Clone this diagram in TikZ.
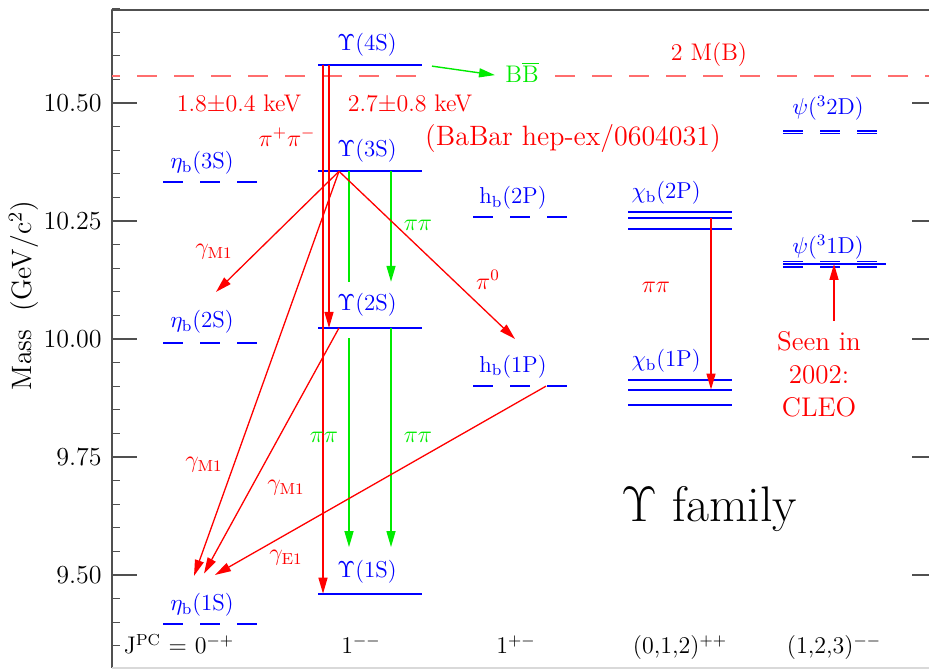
\RequirePackage{fix-cm}
\documentclass[tikz,border=0pt]{standalone}
\usetikzlibrary{arrows.meta}
\definecolor{lvlblue}{RGB}{0,0,255}
\definecolor{decred}{RGB}{255,0,0}
\definecolor{decgreen}{RGB}{0,235,0}
\definecolor{thrred}{RGB}{255,110,110}
\definecolor{framegray}{RGB}{80,80,80}
\begin{document}
\begin{tikzpicture}[x=0.5pt, y=236pt, line join=round, >={Triangle[length=8pt,width=4.5pt]}]
  \tikzset{every node/.style={inner sep=0pt, font=\fontsize{12}{14}\selectfont},
    lvl/.style={draw=lvlblue, line width=1pt},
    lvldash/.style={lvl, dash pattern=on 10pt off 8.5pt},
    trans/.style={->, draw=decred, fill=decred, line width=0.65pt},
    transg/.style={->, draw=decgreen, fill=decgreen, line width=0.7pt},
    blbl/.style={text=lvlblue, font=\fontsize{11.5}{13}\selectfont},
    rlbl/.style={text=decred},
    glbl/.style={text=decgreen},
    jpc/.style={anchor=base, font=\fontsize{12}{14}\selectfont}}
  \def\xmin{112}\def\xmax{929}\def\ymin{9.303}\def\ymax{10.697}
  \useasboundingbox (0,9.30085) rectangle (929,10.71822);
  \draw[framegray, line width=0.8pt] (\xmin,\ymin) -- (\xmin,\ymax) -- (\xmax,\ymax);
  \draw[black!15, line width=0.6pt] (\xmin,\ymin) -- (\xmax,\ymin);
  \foreach \k in {7,...,53} \draw[framegray, line width=0.6pt] (\xmin,{9+\k/20}) -- ++(8,0);
  \foreach \m/\t/\n in {9.50/9.50/a,9.75/9.75/b,10.00/10.00/c,10.25/10.25/d,10.50/10.50/e} {
    \draw[framegray, line width=0.6pt] (\xmin,\m) -- ++(25,0);
    \draw[framegray, line width=0.6pt] (912,\m) -- (\xmax,\m);
    \node[anchor=east, font=\fontsize{13}{15}\selectfont] (tick\n) at (102,\m) {\t};
  }
  \node[rotate=90, font=\fontsize{14}{16}\selectfont] (ylabel) at (24,10.092) {Mass\ \ (GeV/c$^2$)};
  % threshold
  \draw[thrred, line width=0.75pt, dash pattern=on 10pt off 8.5pt, dash phase=6pt] (\xmin,10.557) -- (430,10.557);
  \draw[thrred, line width=0.75pt, dash pattern=on 10pt off 8.5pt] (555,10.557) -- (\xmax,10.557);
  % levels
  \foreach \m in {10.5794,10.3552,10.0233,9.4603} \draw[lvl] (318,\m) -- (422,\m);
  \foreach \m in {10.333,9.9915,9.396} \draw[lvldash] (163,\m) -- (257,\m);
  \foreach \m in {10.258,9.900} \draw[lvldash] (473,\m) -- (567,\m);
  \foreach \m in {10.2686,10.2555,10.2325,9.9122,9.8928,9.8594} \draw[lvl] (628,\m) -- (732,\m);
  \foreach \m in {10.441,10.435,10.164,10.153} \draw[lvldash, line width=0.8pt] (783,\m) -- (877,\m);
  \draw[lvl, line width=0.8pt] (783,10.159) -- (886,10.159);
  % state names
  \node[blbl] (ups4) at (367,10.623) {$\Upsilon$(4S)};
  \node[blbl] (ups3) at (367,10.398) {$\Upsilon$(3S)};
  \node[blbl] (ups2) at (367,10.072) {$\Upsilon$(2S)};
  \node[blbl] (ups1) at (367,9.506) {$\Upsilon$(1S)};
  \node[blbl] (etab3) at (202,10.373) {$\eta_{\rm b}$(3S)};
  \node[blbl] (etab2) at (202,10.036) {$\eta_{\rm b}$(2S)};
  \node[blbl] (etab1) at (202,9.436) {$\eta_{\rm b}$(1S)};
  \node[blbl] (hb2) at (513,10.299) {h$_{\rm b}$(2P)};
  \node[blbl] (hb1) at (513,9.941) {h$_{\rm b}$(1P)};
  \node[blbl] (chib2) at (666,10.309) {$\chi_{\rm b}$(2P)};
  \node[blbl] (chib1) at (666,9.953) {$\chi_{\rm b}$(1P)};
  \node[blbl] (psi2) at (828,10.489) {$\psi$($^3$2D)};
  \node[blbl] (psi1) at (828,10.195) {$\psi$($^3$1D)};
  % transitions
  \coordinate (u4a) at (323,10.5794);
  \coordinate (u1a) at (323,9.4603);
  \coordinate (u4b) at (329,10.5794);
  \coordinate (u2b) at (329,10.0233);
  \draw[trans] (u4a) -- (u1a);
  \draw[trans] (u4b) -- (u2b);
  \coordinate (u3g) at (349,10.3552);
  \coordinate (gbrk1) at (349,10.121);
  \coordinate (gbrk2) at (349,10.002);
  \coordinate (u1g) at (349,9.559);
  \draw[decgreen, line width=0.7pt] (u3g) -- (gbrk1);
  \draw[transg] (gbrk2) -- (u1g);
  \coordinate (u3h) at (391,10.3552);
  \coordinate (u2h) at (391,10.121);
  \coordinate (u2i) at (391,10.0233);
  \coordinate (u1i) at (391,9.559);
  \draw[transg] (u3h) -- (u2h);
  \draw[transg] (u2i) -- (u1i);
  \coordinate (u3r) at (339,10.3552);
  \coordinate (u2r) at (339,10.0233);
  \coordinate (hb1r) at (546,9.900);
  \coordinate (eb2t) at (216,10.0996);
  \coordinate (hb1t) at (515,10.0);
  \coordinate (eb1t1) at (194,9.498);
  \coordinate (eb1t2) at (204,9.503);
  \coordinate (eb1t3) at (215,9.500);
  \draw[trans] (u3r) -- (eb2t);
  \draw[trans] (u3r) -- (hb1t);
  \draw[trans] (u3r) -- (eb1t1);
  \draw[trans] (u2r) -- (eb1t2);
  \draw[trans] (hb1r) -- (eb1t3);
  \coordinate (cb2r) at (711,10.2555);
  \coordinate (cb1r) at (711,9.8928);
  \draw[trans] (cb2r) -- (cb1r);
  \coordinate (seenr) at (834,10.038);
  \coordinate (psi1r) at (834,10.159);
  \draw[trans] (seenr) -- (psi1r);
  \coordinate (u4g) at (432,10.578);
  \coordinate (bbt) at (495,10.559);
  \draw[transg] (u4g) -- (bbt);
  % transition labels
  \node[glbl] (bbbar) at (522,10.5646) {B$\overline{\rm B}$};
  \node[rlbl] (twomb) at (709,10.602) {2 M(B)};
  \node[rlbl] (keva) at (239,10.498) {1.8$\pm$0.4 keV};
  \node[rlbl] (kevb) at (410,10.498) {2.7$\pm$0.8 keV};
  \node[rlbl] (pipm) at (287,10.428) {$\pi^+\pi^-$};
  \node[rlbl, font=\fontsize{14}{16}\selectfont] (babar) at (573,10.424) {(BaBar hep-ex/0604031)};
  \node[rlbl] (gma) at (214,10.184) {$\gamma_{\rm M1}$};
  \node[rlbl] (pizero) at (488,10.125) {$\pi^0$};
  \node[rlbl] (gmb) at (204,9.733) {$\gamma_{\rm M1}$};
  \node[rlbl] (gmc) at (286,9.684) {$\gamma_{\rm M1}$};
  \node[rlbl] (gea) at (286,9.536) {$\gamma_{\rm E1}$};
  \node[rlbl] (pipichi) at (656,10.110) {$\pi\pi$};
  \node[rlbl, align=center, font=\fontsize{13.5}{16.5}\selectfont] (seen) at (819,9.925) {Seen in\\2002:\\CLEO};
  \node[glbl] (pipig1) at (418,10.2415) {$\pi\pi$};
  \node[glbl] (pipig2) at (324,9.792) {$\pi\pi$};
  \node[glbl] (pipig3) at (418,9.792) {$\pi\pi$};
  % quantum numbers
  \node[jpc] (jpc0) at (179,9.3326) {J$^{\rm PC}$ = 0$^{-+}$};
  \node[jpc] (jpc1) at (361,9.3326) {1$^{--}$};
  \node[jpc] (jpc2) at (516,9.3326) {1$^{+-}$};
  \node[jpc] (jpc3) at (680,9.3326) {(0,1,2)$^{++}$};
  \node[jpc] (jpc4) at (834,9.3326) {(1,2,3)$^{--}$};
  \node[anchor=base, font=\fontsize{25}{30}\selectfont] (family) at (709,9.6123) {$\Upsilon$ family};
\end{tikzpicture}
\end{document}
